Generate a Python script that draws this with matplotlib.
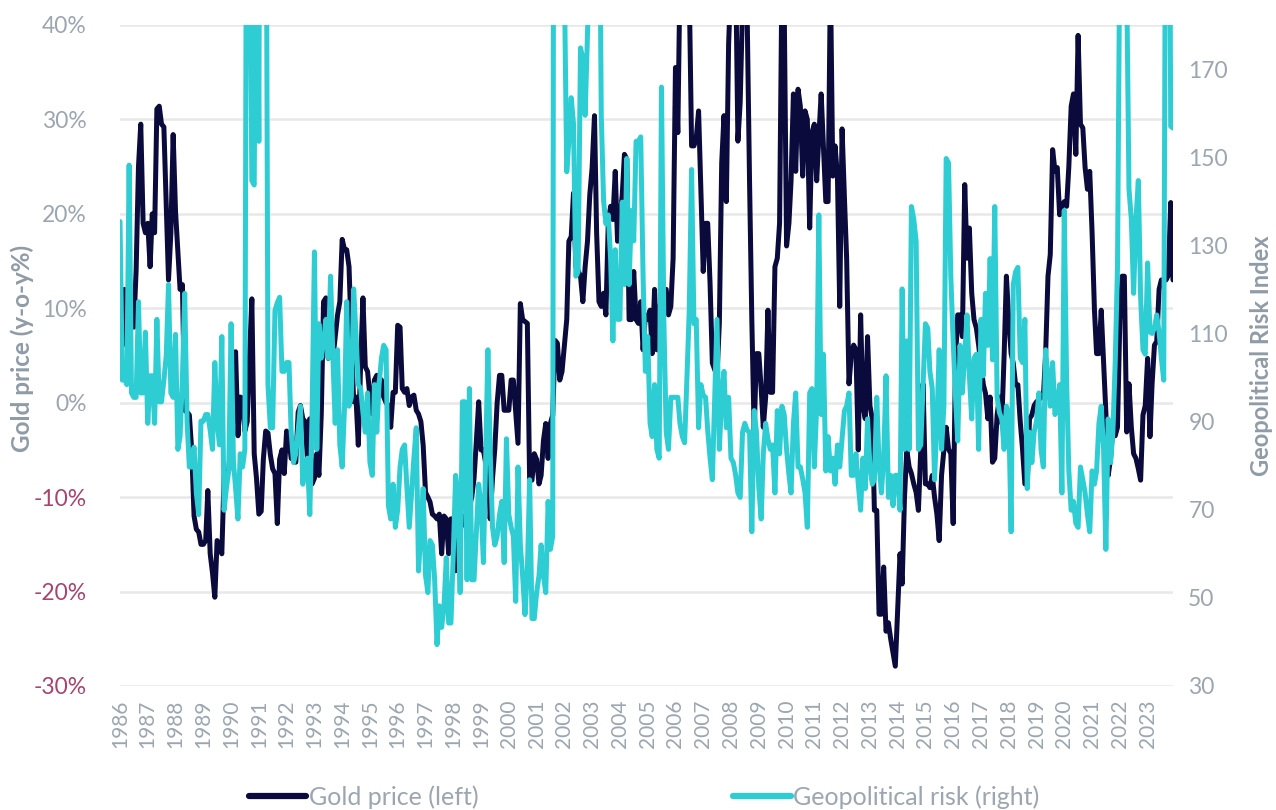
import matplotlib
matplotlib.use("Agg")
import matplotlib.pyplot as plt
import matplotlib.dates as mdates
import pandas as pd
from matplotlib.lines import Line2D

# monthly, Jan 1986 - Dec 2023
months = pd.date_range("1986-01-01", "2023-12-01", freq="MS")

gold_yoy = [
    11, 9, 12, 6, 8, 9, 8, 14, 25, 29.5, 19, 18,                              # 1986
    19, 14.4, 20, 18, 31.1, 31.4, 29.5, 29.2, 21, 13, 18, 28.4,               # 1987
    20.3, 16, 12, 12.5, -0.8, -1, -1.3, -5, -12, -13.4, -13.7, -15,           # 1988
    -15, -14.6, -9.3, -16, -18, -20.6, -14.6, -15, -16, -7.7, -7.5, -7.2,     # 1989
    -4, 2, 5.4, -3.5, 0.6, 0.5, -3, -2, 5, 11, -5.4, -8,                      # 1990
    -11.8, -11.5, -6, -3, -3.2, -5.5, -7, -7.5, -12.8, -6, -5, -7.5,          # 1991
    -3, -4, -5.9, -6, -6.3, -1, -0.3, -1.7, -2, -6, -1.7, -8.6,               # 1992
    -8, -5.4, -7.7, -1.2, 10.7, 11.1, 4.7, 5.2, 4.7, 7, 9.3, 10.7,            # 1993
    17.3, 16.2, 16.2, 14.4, 7, 0.1, 0.6, -4.5, 4.2, 11.1, 3.8, 3.3,           # 1994
    0.6, -1.2, 2.4, 2.9, 2.6, 2.4, 0.6, 0, -0.3, -2.6, 1.1, 1.1,              # 1995
    8.2, 8, 1.5, 1.1, 1.5, -0.3, 0.6, 0.8, -0.8, -1.2, -2, -4.5,              # 1996
    -9.5, -10, -10.5, -11.8, -12, -12.3, -11.8, -16, -12, -12.3, -16, -12.3,  # 1997
    -12.3, -17.8, -15.7, -13, -12, -13, -12.5, -11, -10, -8, -4, 0.1,        # 1998
    -5, -5, -6.3, -4.9, -12.3, -8, -4.9, 0, 2.9, 2.9, -0.8, -0.8,             # 1999
    -0.8, 2.4, 2.4, -1, -4.3, 10.5, 8.8, 8.6, 8.4, -8.2, -8.2, -5.4,          # 2000
    -6, -8.6, -7.7, -4, -2.2, -5.9, -2.2, -1.3, 6.6, 6.3, 2.4, 3.3,           # 2001
    6, 8.8, 17.1, 17.6, 22.2, 14.4, 14, 13.4, 10.7, 14.4, 17.1, 22,           # 2002
    24.9, 30.4, 18, 10.7, 10.2, 11.6, 9.3, 19, 20.8, 19.4, 24.5, 17.1,        # 2003
    19.4, 22, 26.3, 25.8, 8.8, 8.8, 13.9, 8.8, 8.4, 10.7, 5.6, 9.3,           # 2004
    8.8, 9.8, 5.2, 12, 5.6, 9.8, 11, 12, 12, 9.3, 10.2, 15.3,                 # 2005
    35.5, 28.6, 45, 55, 48, 42, 44, 27.2, 27.2, 28, 30.9, 22.6,               # 2006
    13.9, 19, 19, 12.6, 4.2, 3.5, 2.9, 8.4, 25.4, 30.4, 21.3, 38,             # 2007
    45, 44, 47, 27.7, 31.8, 42, 43, 41, 23.5, 8.8, -3.1, 5.2,                 # 2008
    5.2, 1.5, -2.6, 0.6, 9.8, 1.1, 1.1, 14.4, 15.3, 19, 45, 42,               # 2009
    16.6, 19, 23.5, 32.7, 24.5, 33.2, 31.4, 24, 30.9, 30, 18.5, 28.6,         # 2010
    29.5, 23.5, 28.1, 32.7, 27.2, 21.3, 21.3, 45, 24, 27.2, 24, 10.2,         # 2011
    29, 21.7, 15.3, 2, 5, 6.1, 5.6, -5, 9.3, -0.3, -1.7, 7,                   # 2012
    -0.3, -1.7, -11.4, -11.4, -22.4, -22.4, -17.4, -24.2, -23.3, -25, -26.5, -27.9,  # 2013
    -22, -16, -19.2, -10, -5, -6.8, -7.5, -8.6, -9.5, -11.4, -5, 2,           # 2014
    -8.6, -8.6, -9, -7.7, -10, -11.8, -14.6, -7.7, -5, -2.6, -4.9, -5.4,      # 2015
    -12.8, 4.7, 9.3, 9.3, 7, 23.1, 15.3, 18.5, 11.6, 8.8, 7.9, 6.1,           # 2016
    4, 1.9, 1, -1.7, 0.6, -6.3, -5.9, -1.3, 0.6, -2.2, 5, 13.4,               # 2017
    8.8, 5.2, 4.2, 1.9, 1.9, -2, -4.9, -8.6, -8.6, -1.7, -1.3, -0.3,          # 2018
    0.1, 0.3, 0.6, 0.6, 5.2, 13.4, 15.7, 26.8, 24.5, 24.9, 19.9, 20.8,        # 2019
    21.3, 20.8, 25, 31.4, 32.7, 26.3, 38.9, 29.5, 29.1, 24.9, 22.6, 24.5,     # 2020
    18, 9.8, 5.2, 5.2, 9.8, 4.2, -1, -7.7, -5.9, -2.6, -3.5, -2.6,            # 2021
    8.8, 13.4, 13.4, -3.1, 2, -2.6, -5.4, -5.9, -7, -8.2, -1.3, -0.3,         # 2022
    4.7, -3.6, 2, 6.1, 6.5, 12, 13, 13, 13, 13.5, 21.2, 13,                   # 2023
]

geo_risk = [
    135.4, 99.4, 100, 98.4, 148.2, 96.5, 95.5, 95.5, 117.2, 96.5, 96.5, 110.3,      # 1986
    89.6, 100.4, 100.4, 89.6, 113.2, 94.5, 94.5, 99.4, 105, 121.1, 96.5, 95.5,      # 1987
    109.8, 83.7, 86.6, 100, 119.1, 90, 79.7, 79.7, 84.2, 73.8, 68.9, 90.1,          # 1988
    90.1, 91.6, 91.6, 88, 83.7, 103.4, 90, 84.7, 109.3, 69.9, 75, 78.8,             # 1989
    112.2, 80.7, 75, 67.9, 82.7, 79.7, 83.7, 280, 210, 144.7, 143.7, 230,           # 1990
    153.6, 350, 300, 250, 98.4, 88.6, 88.6, 115.2, 117, 118.2, 101.4, 101.4,        # 1991
    103.4, 103.4, 87.6, 80.7, 82.7, 88, 93.5, 75.8, 80.7, 81.7, 68.9, 91.6,         # 1992
    128.5, 83.7, 112.2, 104.4, 108, 113.2, 104.4, 123, 104.4, 89.6, 106.3, 84.7,    # 1993
    79.7, 93.5, 117.2, 93.5, 95.5, 120.1, 110, 98.4, 97.5, 92, 87.6, 96.5,          # 1994
    80.7, 77.8, 98.4, 87.6, 98.4, 104.4, 107.3, 106.3, 70.9, 67.9, 75.8, 66,        # 1995
    70, 79.7, 83.7, 84.7, 75, 66, 73.8, 81.7, 88.6, 56.1, 65, 74.8,                 # 1996
    55.1, 51.2, 63, 62, 54.1, 39.4, 48.2, 43.3, 48.2, 59.1, 44.3, 44.3,             # 1997
    60, 77.8, 73.8, 51.2, 94.5, 94.5, 54.1, 97.5, 54.1, 54.1, 65, 75.8,             # 1998
    70.9, 58, 80, 106.3, 83.7, 66, 62, 64, 68.9, 71.9, 58, 86.1,                    # 1999
    68.9, 66, 64, 49.2, 79.7, 62, 55, 46.2, 56.1, 76.8, 45.3, 45.3,                 # 2000
    51.2, 55, 62, 55, 51.2, 71.9, 61, 64, 500, 350, 250, 200,                       # 2001
    190, 146.7, 153.6, 163.5, 157.6, 123, 124, 174.8, 172.4, 159.5, 178, 200,       # 2002
    220, 260, 350, 230, 159.5, 140, 134.9, 136.9, 127, 108.3, 129, 113.2,           # 2003
    113.2, 139.8, 121.1, 149.7, 121.1, 137.9, 131, 153.6, 153.6, 154.6, 123, 101.4, # 2004
    109.3, 89.6, 86.6, 98.4, 83.7, 81.7, 165.9, 113.2, 87.6, 83.7, 95.5, 95.5,      # 2005
    95.5, 95.5, 89.6, 86.6, 85.2, 100, 115.2, 147.2, 112.2, 113.2, 88.6, 98.4,      # 2006
    96, 95.5, 88, 81.7, 76.8, 95.5, 113.2, 83.7, 95.5, 101.4, 88.6, 95.5,           # 2007
    81.7, 80.7, 78, 73.8, 72.8, 87.6, 89.6, 88, 87.6, 65, 92.5, 87.6,               # 2008
    75, 67.9, 82.7, 89.6, 86, 83.7, 84.7, 73.8, 92.5, 82.7, 93.5, 91.6,             # 2009
    83.7, 78, 73.8, 89.6, 96.5, 79.7, 79.7, 77, 73.8, 66, 96.5, 97.5,               # 2010
    79.7, 93.5, 136.9, 91.6, 105.3, 78.8, 86.6, 78.8, 81.7, 75.8, 84.7, 79.7,       # 2011
    86, 92.5, 93.5, 96.5, 77.8, 77.8, 82.7, 75.8, 69.9, 81.7, 74.8, 90.6,           # 2012
    80, 75.8, 76.8, 95.5, 80.7, 73.8, 81.7, 100.4, 72.8, 77.8, 70.9, 77.8,          # 2013
    77.8, 69.9, 120.1, 83.7, 108.3, 83.7, 138.8, 135.9, 130.9, 83.7, 84.7, 98.4,    # 2014
    112.2, 111.2, 101.4, 97.5, 76.8, 89.6, 106.3, 83.7, 93.5, 149.7, 148.7, 123,    # 2015
    108.3, 95.5, 85.6, 107.3, 96.5, 105, 114.2, 100.4, 90.6, 104.4, 105.3, 83.7,    # 2016
    113.2, 100.4, 119.1, 107.3, 127, 104, 138.8, 95.5, 92, 90.6, 83.7, 93.5,        # 2017
    91.6, 65, 121.1, 124, 125, 104.4, 103.4, 113.2, 74.8, 87.6, 80.7, 87.6,         # 2018
    90, 96.5, 83.7, 79.7, 106.3, 100, 93.5, 103.4, 91.6, 93.5, 98.4, 73.8,          # 2019
    137.9, 99.4, 78.8, 69.9, 71.9, 66.9, 66, 79.7, 76.8, 73.8, 68.9, 65,            # 2020
    78.8, 75.8, 78.8, 89.6, 93.5, 83.7, 61, 90.6, 80.7, 87.6, 103.4, 125,           # 2021
    200, 260, 300, 190, 142.8, 135.9, 119.1, 135.9, 144.7, 118.2, 106.3, 105.3,     # 2022
    126, 110.3, 110, 111.2, 114.2, 110.3, 104.4, 99.4, 250, 280, 157, 156.6,        # 2023
]

left_ticks = [-30, -20, -10, 0, 10, 20, 30, 40]
right_ticks = [30, 50, 70, 90, 110, 130, 150, 170]
series_labels = ["Gold price (left)", "Geopolitical risk (right)"]

NAVY = "#0b0a3c"
CYAN = "#2ecdd4"
GREY = "#9ba6b1"
LABEL_GREY = "#8f9ba6"
NEG = "#a8446f"

plt.rcParams["font.family"] = ["Lato", "DejaVu Sans"]

fig = plt.figure(figsize=(12.76, 8.10), dpi=100)
ax = fig.add_axes([120 / 1276, 1 - 686 / 810, (1173 - 120) / 1276, (686 - 25) / 810])
ax2 = ax.twinx()

ax.plot(months, gold_yoy, color=NAVY, lw=3.6,
        solid_joinstyle="round", solid_capstyle="round")
ax2.plot(months, geo_risk, color=CYAN, lw=3.6,
         solid_joinstyle="round", solid_capstyle="round")

ax.set_xlim(months[0], months[-1])
ax.set_ylim(-30, 40)
ax2.set_ylim(30, 180)

ax.set_yticks(left_ticks, labels=[f"{t}%" for t in left_ticks])
for t, lbl in zip(left_ticks, ax.get_yticklabels()):
    lbl.set_color(NEG if t < 0 else GREY)
ax2.set_yticks(right_ticks, labels=[str(t) for t in right_ticks])

ax.xaxis.set_major_locator(mdates.YearLocator())
ax.xaxis.set_major_formatter(mdates.DateFormatter("%Y"))

ax.tick_params(axis="y", length=0, pad=24, labelsize=16.5)
ax2.tick_params(axis="y", length=0, pad=11, labelsize=16.5, labelcolor=GREY)
ax.tick_params(axis="x", length=0, pad=10, labelsize=15, labelcolor=GREY,
               labelrotation=90)

ax.grid(axis="y", color="#e8e8e8", lw=1.8)
ax.set_axisbelow(True)
for a in (ax, ax2):
    for s in a.spines.values():
        s.set_visible(False)

ax.set_ylabel("Gold price (y-o-y%)", fontsize=17.5, fontweight="bold", color=LABEL_GREY)
ax.yaxis.set_label_coords(-0.082, 0.51)
ax2.set_ylabel("Geopolitical Risk Index", fontsize=17, fontweight="bold", color=LABEL_GREY)
ax2.yaxis.set_label_coords(1.073, 0.50)

handles = [Line2D([], [], color=NAVY, lw=4.5, solid_capstyle="round"),
           Line2D([], [], color=CYAN, lw=4.5, solid_capstyle="round")]
fig.legend(handles, series_labels, loc="center", bbox_to_anchor=(644 / 1276, 1 - 797 / 810),
           ncol=2, frameon=False, fontsize=18, handlelength=2.3,
           handletextpad=0.1, columnspacing=10.2, labelcolor=GREY)

fig.savefig("out.png", dpi=100)
